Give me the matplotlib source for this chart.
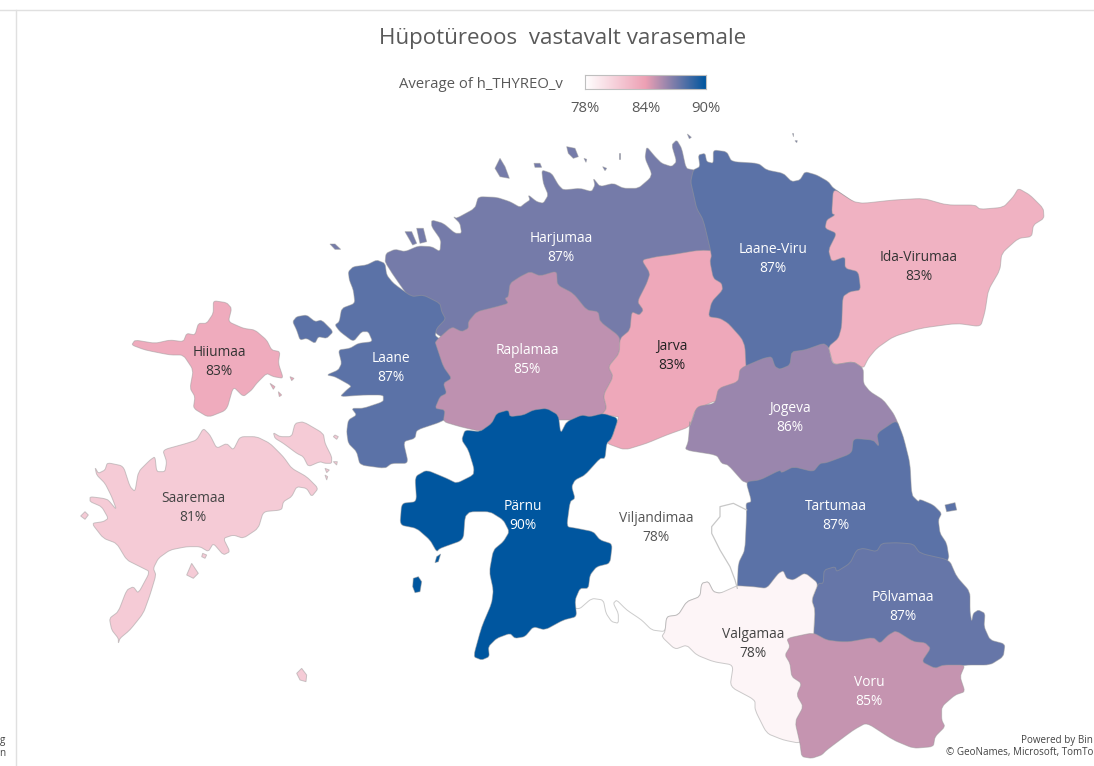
import numpy as np
import matplotlib
matplotlib.use("Agg")
import matplotlib.pyplot as plt
from matplotlib.colors import LinearSegmentedColormap, Normalize
from matplotlib.patches import PathPatch
from matplotlib.path import Path

plt.rcParams['font.family'] = ['Open Sans', 'DejaVu Sans']

TITLE = "Hüpotüreoos  vastavalt varasemale"
LEGEND_TITLE = "Average of h_THYREO_v"
LEGEND_TICKS = [78, 84, 90]

counties = ["Harjumaa", "Laane-Viru", "Ida-Virumaa", "Hiiumaa", "Laane", "Raplamaa", "Jarva", "Jogeva",
            "Saaremaa", "Pärnu", "Viljandimaa", "Tartumaa", "Põlvamaa", "Valgamaa", "Voru"]
percent_labels = [87, 87, 83, 83, 87, 85, 83, 86, 81, 90, 78, 87, 87, 78, 85]
shade_values = [87.0, 87.7, 82.9, 83.3, 87.7, 85.2, 83.5, 86.1, 81.3, 90.0, 78.0, 87.7, 87.4, 78.7, 85.0]
label_x = [561, 773, 919, 219, 391, 527, 672, 790, 193, 523, 656, 836, 903, 753, 869]
label_y = [237, 248, 256, 351, 357, 349, 345, 407, 497, 505, 517, 505, 596, 633, 681]
label_colors = ["white", "white", "#333333", "#333333", "white", "white", "#222222", "white", "#444444",
                "white", "#555555", "white", "white", "#444444", "white"]


def px(ox, oy, pts):
    return [(ox + x / 3, oy + y / 3) for x, y in pts]


A = (70, 280)    # west
B = (280, 120)   # north
C = (680, 120)   # north-east
D = (400, 400)   # south-centre
E = (680, 420)   # south-east

outlines = {
    "Harjumaa": [
        px(*B, [(315, 430), (318, 400), (345, 388), (375, 395), (415, 378), (455, 380), (480, 395), (483, 360),
                (455, 320), (455, 300), (490, 310), (525, 340), (545, 340), (540, 310), (520, 290), (530, 295),
                (585, 265), (595, 230), (650, 232), (690, 245), (720, 262), (735, 250), (750, 240), (745, 225),
                (770, 245), (790, 250), (805, 225), (790, 190), (785, 150), (815, 160), (835, 195), (850, 210),
                (900, 205), (935, 215), (945, 195), (940, 175), (960, 200), (1000, 190), (1030, 205), (1075, 205),
                (1110, 175), (1115, 160), (1095, 115), (1100, 80), (1125, 110), (1145, 130), (1175, 140),
                (1190, 125), (1175, 75), (1190, 60), (1205, 85), (1218, 145), (1240, 150), (1280, 150),
                (1300, 250), (1300, 400), (1150, 500), (1100, 650), (1020, 670), (700, 620), (550, 660), (470, 650)]),
        px(*B, [(150, 372), (165, 372), (182, 388), (165, 388)]),
        px(*B, [(375, 335), (395, 335), (410, 370), (398, 375)]),
        px(*B, [(410, 325), (430, 325), (440, 365), (420, 370)]),
        px(*B, [(660, 115), (675, 140), (688, 175), (660, 170), (645, 145)]),
        px(*B, [(860, 80), (885, 85), (895, 110), (880, 115), (865, 100)]),
        px(*B, [(762, 130), (780, 130), (785, 142), (765, 142)]),
        px(*B, [(912, 115), (920, 118), (918, 127)]),
        px(*B, [(1016, 100), (1021, 100), (1021, 118), (1016, 118)]),
        px(*B, [(968, 140), (980, 145), (975, 152)]),
        px(*B, [(1222, 42), (1234, 52), (1228, 56)]),
        px(*C, [(335, 40), (340, 40), (340, 48)]),
        px(*C, [(345, 62), (352, 62), (350, 68)]),
    ],
    "Laane": [
        px(*B, [(315, 430), (320, 465), (340, 490), (395, 530), (430, 525), (480, 550), (485, 575), (497, 597),
                (470, 625), (465, 650), (560, 700), (560, 860)])
        + px(*A, [(1115, 425), (1040, 450), (1035, 475), (1000, 485), (1015, 550), (965, 550), (945, 565),
                  (870, 555), (860, 515), (835, 490), (830, 455), (835, 420), (860, 405), (845, 385), (880, 385),
                  (940, 365), (940, 345), (880, 345), (810, 350), (830, 330), (845, 318), (795, 290), (770, 285),
                  (805, 270), (815, 250), (805, 210), (840, 205), (865, 190), (908, 185), (895, 155), (875, 155),
                  (850, 185), (810, 155), (795, 135), (808, 125), (815, 85), (855, 70), (850, 30), (838, 0)])
        + px(*B, [(205, 455), (220, 440), (260, 435), (290, 420)]),
        px(*A, [(668, 125), (680, 110), (710, 105), (735, 125), (755, 120), (790, 155), (770, 175), (745, 170),
                (735, 190), (710, 175), (690, 180), (680, 150)]),
    ],
    "Raplamaa": [
        px(*B, [(465, 665), (515, 620), (545, 635), (565, 625), (565, 605), (590, 575), (650, 560), (685, 550),
                (675, 535), (685, 530), (690, 490), (720, 470), (750, 455), (780, 468), (830, 453), (832, 495),
                (880, 520), (920, 570), (955, 575), (960, 605), (1020, 650), (1018, 700), (985, 740), (1000, 770),
                (970, 825), (980, 865), (965, 885), (900, 900), (800, 900), (650, 900), (605, 935), (540, 920),
                (490, 905), (495, 870), (465, 865), (480, 830), (500, 820), (490, 790), (515, 775), (490, 740),
                (470, 680)]),
    ],
    "Viljandimaa": [
        px(*D, [(600, 100), (700, 100), (900, 60), (950, 120), (1100, 200), (1100, 560), (1005, 575), (960, 580),
                (940, 575), (925, 545), (905, 550), (900, 590), (860, 605), (835, 645), (800, 650), (795, 695),
                (755, 690), (725, 660), (680, 630), (650, 600), (640, 610), (655, 640), (655, 670), (635, 665),
                (618, 640), (610, 600), (575, 595), (535, 630), (480, 600), (480, 300)]),
    ],
    "Jarva": [
        px(*B, [(1085, 420), (1130, 410), (1170, 405), (1260, 390), (1340, 395), (1500, 600), (1500, 900)])
        + px(*D, [(1000, 50), (950, 0), (885, 30), (870, 80), (800, 105), (740, 130), (675, 150), (620, 130),
                  (635, 115), (655, 55)])
        + px(*B, [(1015, 890), (965, 885), (980, 865), (970, 825), (1000, 770), (985, 740), (1018, 700),
                  (1020, 655), (1050, 630), (1055, 575), (1078, 585), (1090, 570), (1072, 545), (1100, 490),
                  (1110, 460)]),
    ],
    "Laane-Viru": [
        px(*C, [(40, 150), (60, 140), (55, 105), (75, 100), (80, 125), (100, 130), (100, 90), (140, 95), (155, 125),
                (235, 130), (260, 150), (310, 160), (335, 185), (360, 180), (375, 155), (410, 165), (445, 185),
                (460, 205), (600, 300), (600, 500), (520, 650), (445, 680), (430, 720), (200, 770), (198, 740),
                (195, 680), (185, 655), (145, 610), (120, 595), (85, 590), (95, 545), (128, 510), (125, 490),
                (100, 475), (90, 425), (95, 405), (70, 300), (50, 265), (40, 220), (32, 185)]),
    ],
    "Ida-Virumaa": [
        px(*C, [(460, 205), (520, 245), (550, 250), (640, 240), (730, 235), (800, 255), (885, 255), (900, 268),
                (970, 262), (1000, 230), (1015, 205), (1050, 225), (1090, 265), (1092, 295), (1060, 315),
                (1055, 350), (1015, 355), (965, 400), (960, 450), (925, 510), (915, 575), (902, 620), (830, 610),
                (720, 625), (640, 650), (590, 685), (565, 715), (550, 745), (520, 725), (460, 735), (445, 680),
                (475, 655), (485, 620), (488, 530), (510, 515), (542, 510), (535, 455), (495, 445), (495, 410),
                (455, 425), (445, 390), (470, 340), (435, 325), (440, 300), (465, 285), (455, 280)]),
    ],
    "Jogeva": [
        px(*C, [(180, 745), (250, 715), (275, 710), (285, 740), (300, 748), (330, 735), (335, 695), (375, 690),
                (430, 670), (445, 680), (458, 735), (520, 725), (550, 745), (550, 790), (570, 815), (610, 840),
                (640, 880), (652, 905), (670, 960)])
        + px(*E, [(660, 60), (500, 200), (198, 195), (145, 135), (125, 130), (110, 105), (15, 90), (25, 65), (30, 0)])
        + px(*C, [(30, 920), (50, 860), (105, 850), (115, 805), (175, 785)]),
    ],
    "Tartumaa": [
        px(*E, [(198, 185), (240, 180), (300, 150), (305, 158), (340, 140), (400, 155), (420, 130), (440, 128),
                (515, 100), (520, 55), (580, 60), (597, 80), (590, 40), (650, 0), (670, 50), (690, 130), (695, 225),
                (715, 245), (720, 238), (760, 255), (785, 280), (775, 300), (780, 340), (800, 370), (808, 420),
                (700, 560), (430, 560), (415, 490), (375, 530), (172, 530), (172, 497), (175, 430), (195, 390),
                (200, 280), (198, 250), (215, 245)]),
        px(*E, [(795, 255), (825, 248), (830, 270), (800, 275)]),
    ],
    "Põlvamaa": [
        px(*E, [(430, 490), (432, 450), (465, 440), (470, 455), (510, 430), (530, 390), (550, 385), (590, 395),
                (605, 370), (650, 368), (700, 372), (720, 400), (808, 420), (830, 470), (870, 515), (870, 575),
                (875, 605), (880, 580), (895, 570), (915, 580), (912, 620), (930, 660), (975, 672), (970, 710),
                (930, 735), (855, 735), (765, 750), (620, 700), (400, 660), (405, 570), (395, 540), (415, 490)]),
    ],
    "Valgamaa": [
        px(*E, [(165, 500), (172, 497), (220, 500), (260, 505), (295, 460), (310, 452), (320, 475), (340, 480),
                (375, 458), (415, 490), (395, 540), (405, 570), (400, 660), (500, 700), (500, 900), (360, 970),
                (310, 960), (260, 940), (225, 870), (225, 840), (150, 800), (160, 735), (100, 725), (50, 705),
                (20, 675), (-15, 688), (-55, 650), (-45, 635), (-40, 590), (-5, 585), (20, 545), (60, 530),
                (65, 490), (85, 485), (100, 515), (120, 520)]),
    ],
    "Voru": [
        px(*E, [(320, 655), (400, 638), (440, 660), (480, 665), (510, 665), (580, 652), (600, 670), (625, 645),
                (648, 632), (700, 665), (735, 668), (752, 685), (725, 725), (765, 745), (790, 735), (855, 735),
                (840, 770), (855, 815), (825, 825), (785, 860), (785, 900), (795, 920), (765, 950), (760, 980),
                (700, 985), (640, 960), (560, 908), (520, 930), (440, 990), (425, 1005), (395, 1015), (365, 1010),
                (360, 970), (345, 905), (370, 860), (350, 825), (365, 790), (335, 770), (330, 730), (315, 705),
                (330, 680)]),
    ],
    "Pärnu": [
        px(*D, [(195, 90), (240, 95), (275, 70), (290, 40), (325, 30), (330, 50), (370, 45), (400, 30), (440, 25),
                (475, 45), (482, 100), (500, 65), (545, 45), (570, 50), (610, 40), (655, 55), (635, 115), (620, 130),
                (615, 175), (600, 175), (555, 225), (525, 240), (515, 260), (525, 295), (510, 305), (500, 380),
                (530, 385), (580, 395), (600, 420), (637, 432), (630, 490), (590, 500), (570, 525), (565, 565),
                (540, 565), (525, 600), (530, 650), (490, 660), (435, 690), (400, 680), (375, 710), (345, 715),
                (330, 700), (290, 715), (265, 740), (268, 770), (245, 780), (220, 770), (245, 680), (275, 610),
                (280, 570), (268, 515), (280, 450), (310, 425), (328, 395), (310, 360), (270, 335), (210, 335),
                (195, 350), (190, 420), (120, 445), (110, 455), (90, 420), (50, 385), (0, 375), (5, 310), (50, 305),
                (45, 230), (80, 210), (140, 235), (170, 250), (220, 225), (222, 205), (205, 150), (185, 120)]),
        px(*D, [(40, 535), (55, 530), (65, 545), (60, 575), (45, 578), (38, 560)]),
        px(*D, [(110, 470), (122, 462), (115, 485), (105, 488)]),
    ],
    "Saaremaa": [
        px(*A, [(75, 562), (85, 580), (105, 570), (112, 548), (160, 558), (180, 620), (195, 635), (205, 575),
                (240, 540), (255, 530), (260, 575), (285, 575), (290, 545), (278, 510), (350, 490), (380, 480),
                (400, 445), (420, 465), (440, 505), (470, 490), (490, 510), (510, 470), (560, 470), (600, 490),
                (640, 530), (665, 565), (710, 590), (745, 625), (725, 650), (710, 625), (680, 620), (665, 650),
                (640, 665), (635, 690), (580, 695), (565, 745), (520, 775), (490, 765), (460, 775), (480, 815),
                (460, 825), (430, 790), (415, 815), (390, 800), (350, 800), (300, 810), (265, 835), (250, 865),
                (258, 885), (240, 945), (220, 1000), (180, 1050), (150, 1075), (145, 1090), (145, 1075), (125, 1050),
                (118, 1015), (145, 995), (170, 930), (190, 920), (205, 940), (240, 875), (210, 860), (170, 840),
                (140, 790), (100, 775), (65, 730), (100, 725), (115, 715), (95, 680), (60, 665), (60, 650),
                (100, 655), (115, 660), (140, 690), (125, 650), (105, 610), (80, 585)]),
        px(*A, [(610, 458), (630, 470), (665, 470), (675, 430), (700, 425), (760, 460), (765, 490), (785, 530),
                (785, 550), (765, 550), (750, 545), (715, 560), (700, 530), (680, 520), (640, 490), (615, 475)]),
        px(*A, [(365, 850), (385, 880), (370, 895), (350, 885)]),
        px(*A, [(398, 820), (410, 825), (405, 835), (395, 830)]),
        px(*A, [(680, 1180), (695, 1165), (710, 1185), (708, 1205), (690, 1200)]),
        px(*A, [(32, 708), (45, 695), (55, 705), (45, 718)]),
        px(*A, [(795, 465), (805, 470), (800, 478), (790, 470)]),
        px(*A, [(765, 565), (778, 570), (770, 578)]),
        px(*A, [(765, 585), (773, 590), (770, 600)]),
        px(*A, [(790, 545), (802, 545), (800, 555)]),
    ],
    "Hiiumaa": [
        px(*A, [(430, 62), (470, 68), (485, 85), (475, 125), (520, 145), (555, 150), (590, 180), (605, 210),
                (630, 215), (625, 250), (640, 295), (610, 290), (590, 280), (560, 310), (545, 330), (520, 350),
                (490, 320), (470, 390), (415, 412), (370, 385), (375, 350), (360, 325), (370, 270), (340, 225),
                (300, 225), (225, 210), (185, 195), (195, 180), (255, 190), (300, 180), (340, 185), (350, 160),
                (375, 165), (385, 130), (410, 130), (430, 100)]),
        px(*A, [(660, 290), (672, 295), (665, 302)]),
        px(*A, [(600, 310), (615, 320), (610, 328)]),
        px(*A, [(625, 335), (635, 345), (628, 350)]),
    ],
}
draw_order = ["Viljandimaa", "Harjumaa", "Laane", "Raplamaa", "Jarva", "Laane-Viru", "Ida-Virumaa", "Jogeva",
              "Tartumaa", "Põlvamaa", "Valgamaa", "Voru", "Pärnu", "Saaremaa", "Hiiumaa"]
lake_line = px(*D, [(1012, 565), (1005, 540), (990, 500), (960, 450), (935, 400), (935, 380), (960, 350), (960, 320),
                    (1000, 310), (1040, 330)])

cmap = LinearSegmentedColormap.from_list("h", ["#FFFFFF", "#EDA0B4", "#00569F"])
norm = Normalize(78, 90)
CORNER = 0.25


def rounded(part):
    """Closed path whose corners are softened only over the ends of each edge."""
    if len(part) < 7:
        return Path(part + part[:1], [Path.MOVETO] + [Path.LINETO] * (len(part) - 1) + [Path.CLOSEPOLY])
    p = np.array(part)
    prev = np.roll(p, 1, axis=0)
    nxt = np.roll(p, -1, axis=0)
    verts, codes = [], []
    for a, b, c in zip(prev, p, nxt):
        enter = b + (a - b) * CORNER
        leave = b + (c - b) * CORNER
        verts += [enter, b, leave]
        codes += [Path.MOVETO if not verts[3:] else Path.LINETO, Path.CURVE3, Path.CURVE3]
    verts.append(verts[0])
    codes.append(Path.LINETO)
    return Path(verts, codes)


fig = plt.figure(figsize=(10.94, 7.66), dpi=100, facecolor="white")
ax = fig.add_axes([0, 0, 1, 1])
ax.set_xlim(0, 1094)
ax.set_ylim(766, 0)
ax.axis("off")

ax.plot([0, 1094], [10, 10], color="#E0E0E0", lw=1)
ax.plot([16, 16], [10, 766], color="#E0E0E0", lw=1)

shade = dict(zip(counties, shade_values))
for z, name in enumerate(draw_order):
    for part in outlines[name]:
        ax.add_patch(PathPatch(rounded(part), facecolor=cmap(norm(shade[name])),
                               edgecolor=(0.6, 0.6, 0.6, 0.5), lw=0.7, zorder=2 + z * 0.01))
ax.plot(*zip(*lake_line), color="#C8C8C8", lw=0.9, zorder=3)

for name, pct, x, y, col in zip(counties, percent_labels, label_x, label_y, label_colors):
    ax.text(x, y + 1.2, name, ha="center", va="center", color=col, fontsize=9.9, zorder=5)
    ax.text(x, y + 20.7, f"{pct}%", ha="center", va="center", color=col, fontsize=9.9, zorder=5)

ax.text(563, 38.5, TITLE, ha="center", va="center", fontsize=16.1, color="#595959")
ax.text(563, 84.5, LEGEND_TITLE, ha="right", va="center", fontsize=10.7, color="#595959")
for t, x in zip(LEGEND_TICKS, [585, 646, 706]):
    ax.text(x, 108.5, f"{t}%", ha="center", va="center", fontsize=10.7, color="#595959")

cax = fig.add_axes([585 / 1094, 1 - 89 / 766, 121 / 1094, 14 / 766])
cax.imshow(np.linspace(78, 90, 256)[None, :], aspect="auto", cmap=cmap, norm=norm)
cax.set_xticks([])
cax.set_yticks([])
for s in cax.spines.values():
    s.set_color("#BFBFBF")
    s.set_linewidth(0.8)

ax.text(1093, 740, "Powered by Bin", ha="right", va="center", fontsize=7.1, color="#444444")
ax.text(1093, 753, "© GeoNames, Microsoft, TomTo", ha="right", va="center", fontsize=7.1, color="#444444")
ax.text(5, 740, "g", ha="right", va="center", fontsize=7.1, color="#444444")
ax.text(5, 753, "n", ha="right", va="center", fontsize=7.1, color="#444444")

fig.savefig("out.png", dpi=100)
